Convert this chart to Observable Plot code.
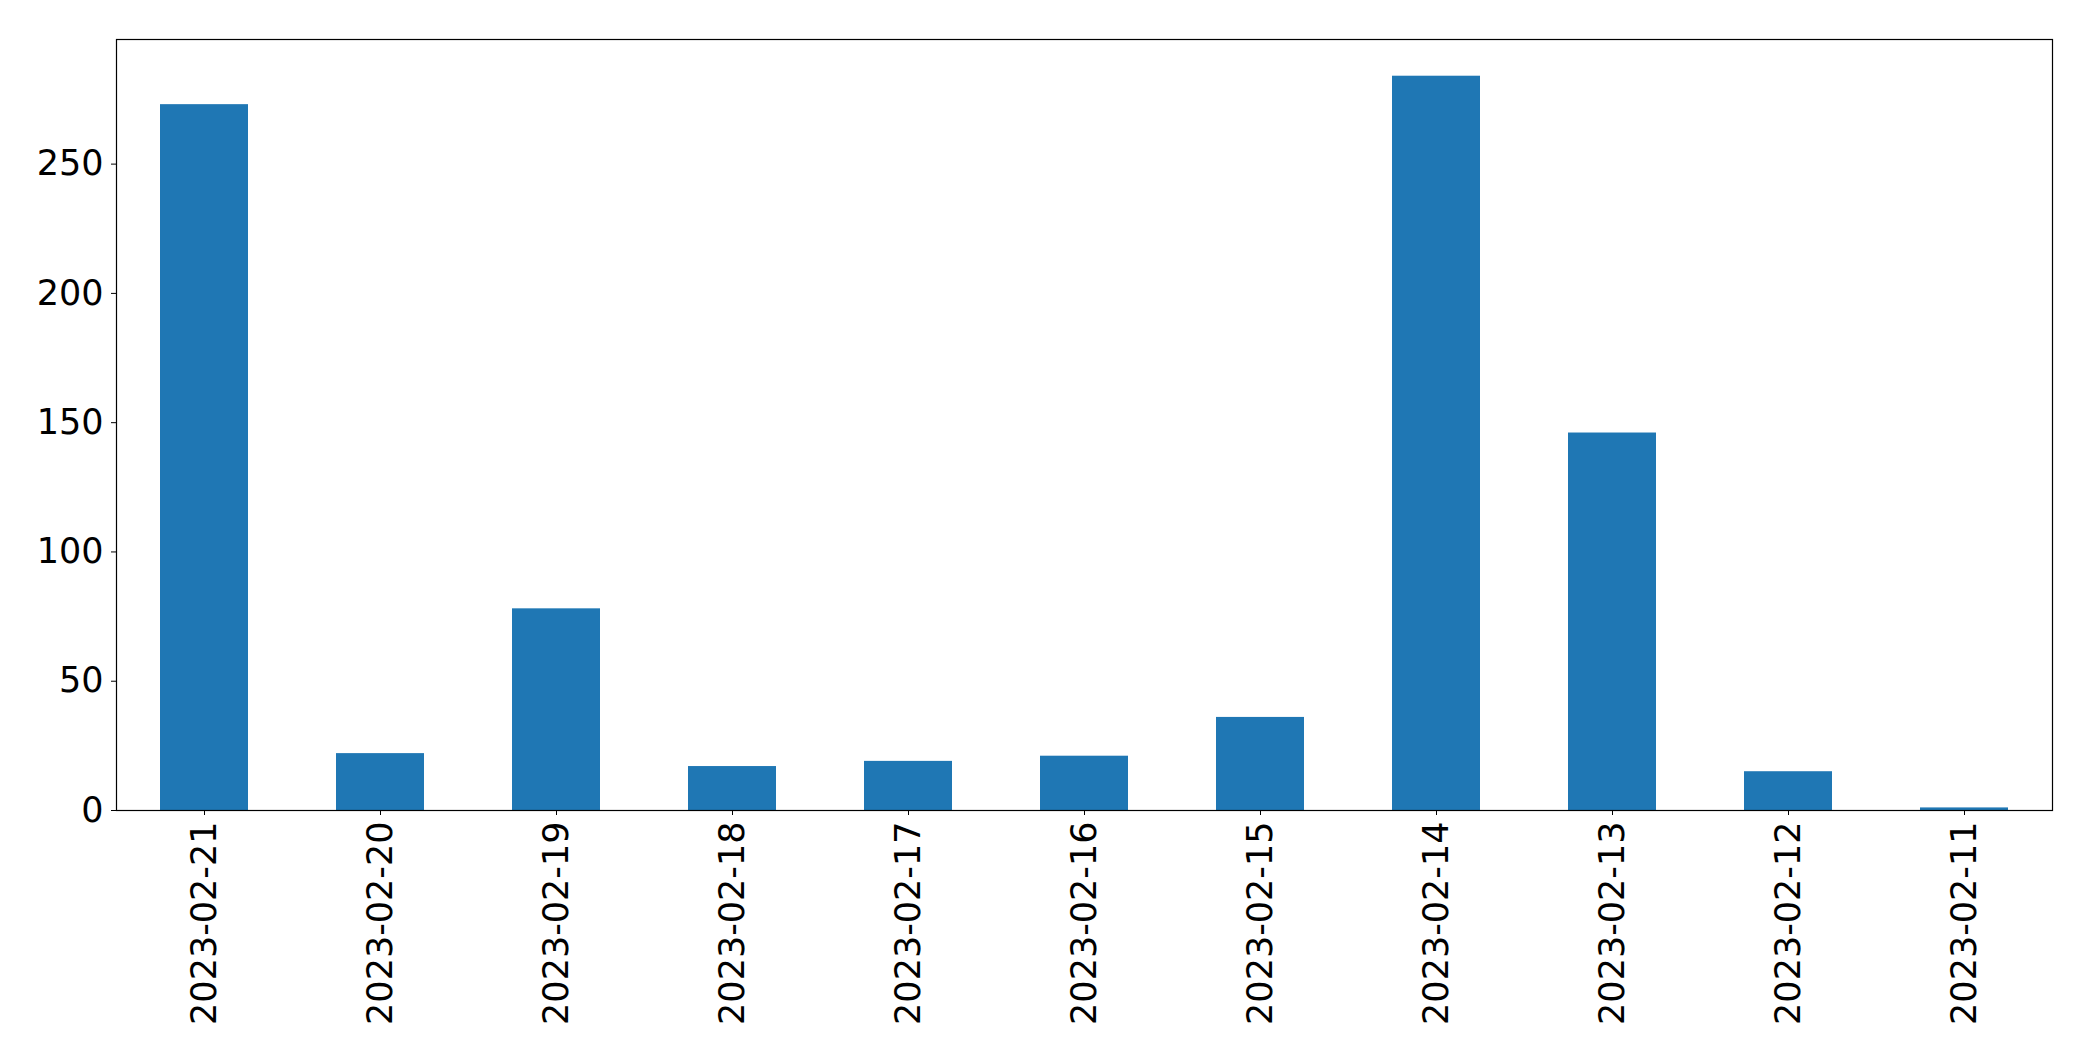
<!DOCTYPE html>
<html>
<head>
<meta charset="utf-8">
<script src="https://cdn.jsdelivr.net/npm/d3@7"></script>
<script src="https://cdn.jsdelivr.net/npm/@observablehq/plot@0.6"></script>
<style>
  html, body { margin: 0; padding: 0; background: #fff; }
  #chart svg { display: block; }
</style>
</head>
<body>
<div id="chart"></div>
<script>
const dates = ["2023-02-21","2023-02-20","2023-02-19","2023-02-18","2023-02-17","2023-02-16","2023-02-15","2023-02-14","2023-02-13","2023-02-12","2023-02-11"];
const counts = [273, 22, 78, 17, 19, 21, 36, 284, 146, 15, 1];
const yTicks = [0, 50, 100, 150, 200, 250];

const data = dates.map((d, i) => ({date: d, count: counts[i]}));
const yMax = d3.max(counts) * 1.05;

const chart = Plot.plot({
  width: 2093,
  height: 1061,
  marginLeft: 116,
  marginRight: 41,
  marginTop: 39,
  marginBottom: 251,
  style: {fontFamily: "'DejaVu Sans', sans-serif", fontSize: "35px", color: "black", background: "white"},
  x: {domain: dates, paddingInner: 0.5, paddingOuter: 0.25},
  y: {domain: [0, yMax]},
  marks: [
    Plot.barY(data, {x: "date", y: "count", fill: "#1f77b4"}),
    Plot.axisY({ticks: yTicks, tickSize: 5, tickPadding: 8, label: null, fontSize: 35}),
    Plot.axisX({tickSize: 5, tickPadding: 6, tickRotate: -90, textAnchor: "end", lineAnchor: "middle", label: null, fontSize: 35}),
    Plot.frame({stroke: "black", strokeWidth: 1.2})
  ]
});
document.getElementById("chart").appendChild(chart);
</script>
</body>
</html>
